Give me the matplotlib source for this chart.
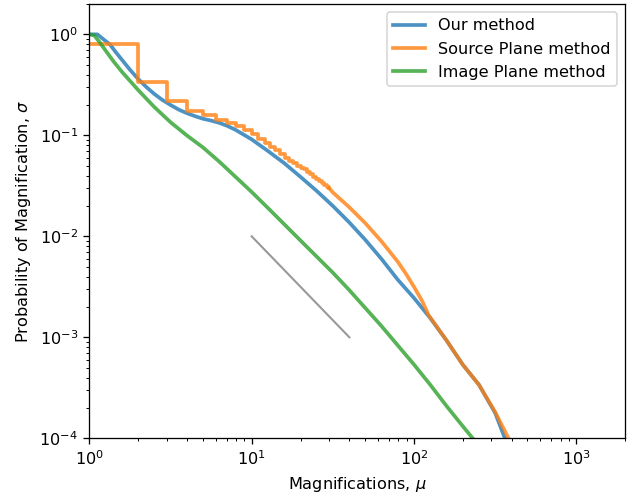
import matplotlib
matplotlib.use("Agg")
import matplotlib.pyplot as plt

# Our method
our_x = [1.0, 1.122, 1.202, 1.34, 1.445, 1.585, 1.778, 1.995, 2.239, 2.512, 2.818,
         3.162, 3.548, 3.981, 4.467, 5.012, 5.623, 6.31, 7.079, 7.943, 10, 12.59,
         15.85, 19.95, 25.12, 31.62, 39.81, 50.12, 63.1, 79.43, 100, 125.9, 158.5,
         199.5, 251.2, 316.2, 363]
our_y = [1.0, 1.0, 0.912, 0.794, 0.676, 0.562, 0.447, 0.363, 0.302, 0.257, 0.224,
         0.2, 0.18, 0.166, 0.155, 0.146, 0.140, 0.133, 0.124, 0.1135, 0.0912, 0.07,
         0.0531, 0.0389, 0.0282, 0.02, 0.0138, 0.00923, 0.00596, 0.00372, 0.00245,
         0.00155, 0.000933, 0.000537, 0.000339, 0.000178, 0.0001]

# Source plane method: stepped part at integer magnifications, then smooth tail
src_step_x = list(range(1, 31))
src_step_y = [0.81, 0.336, 0.22, 0.176, 0.158, 0.142, 0.133, 0.123, 0.112, 0.102,
              0.092, 0.084, 0.077, 0.071, 0.065, 0.059, 0.056, 0.053, 0.050, 0.048,
              0.046, 0.043, 0.041, 0.039, 0.037, 0.035, 0.034, 0.032, 0.031, 0.030]
src_tail_x = [30, 31.62, 39.81, 50.12, 63.1, 79.43, 89.1, 100, 112.2, 123, 158.5,
              199.5, 251.2, 316.2, 382]
src_tail_y = [0.030, 0.0272, 0.0195, 0.0135, 0.0089, 0.0056, 0.00427, 0.00316,
              0.00229, 0.00166, 0.000933, 0.000537, 0.000339, 0.000182, 0.0001]

# Image plane method
img_x = [1.0, 1.072, 1.148, 1.259, 1.413, 1.585, 1.778, 1.995, 2.512, 3.162, 3.981,
         5.012, 6.31, 7.943, 10, 12.59, 15.85, 19.95, 25.12, 31.62, 39.81, 50.12,
         63.1, 79.43, 100, 125.9, 158.5, 199.5, 230]
img_y = [1.0, 0.977, 0.851, 0.692, 0.537, 0.427, 0.347, 0.282, 0.191, 0.135, 0.1,
         0.0759, 0.055, 0.0389, 0.0275, 0.0191, 0.0132, 0.00912, 0.00631, 0.00437,
         0.00295, 0.00195, 0.00129, 0.000832, 0.000537, 0.000339, 0.000209,
         0.000132, 0.0001]

# reference slope line
ref_x = [10, 40]
ref_y = [1e-2, 1e-3]

fig, ax = plt.subplots(figsize=(5.5, 4.276), dpi=116)
fig.subplots_adjust(left=0.14, right=0.98, top=0.992, bottom=0.1163)

lw = 2.3
ax.plot(our_x, our_y, color="tab:blue", alpha=0.8, lw=lw, label="Our method")
ax.plot(src_step_x, src_step_y, color="tab:orange", alpha=0.8, lw=lw,
        drawstyle="steps-post", label="Source Plane method")
ax.plot(src_tail_x, src_tail_y, color="tab:orange", alpha=0.8, lw=lw)
ax.plot(img_x, img_y, color="tab:green", alpha=0.8, lw=lw, label="Image Plane method")
ax.plot(ref_x, ref_y, color="gray", alpha=0.8, lw=1.3)

ax.set_xscale("log")
ax.set_yscale("log")
ax.set_xlim(1, 2000)
ax.set_ylim(1e-4, 2)
ax.set_xlabel(r"Magnifications, $\mu$")
ax.set_ylabel(r"Probability of Magnification, $\sigma$")
ax.legend(loc="upper right")

fig.savefig("out.png", dpi=116)
